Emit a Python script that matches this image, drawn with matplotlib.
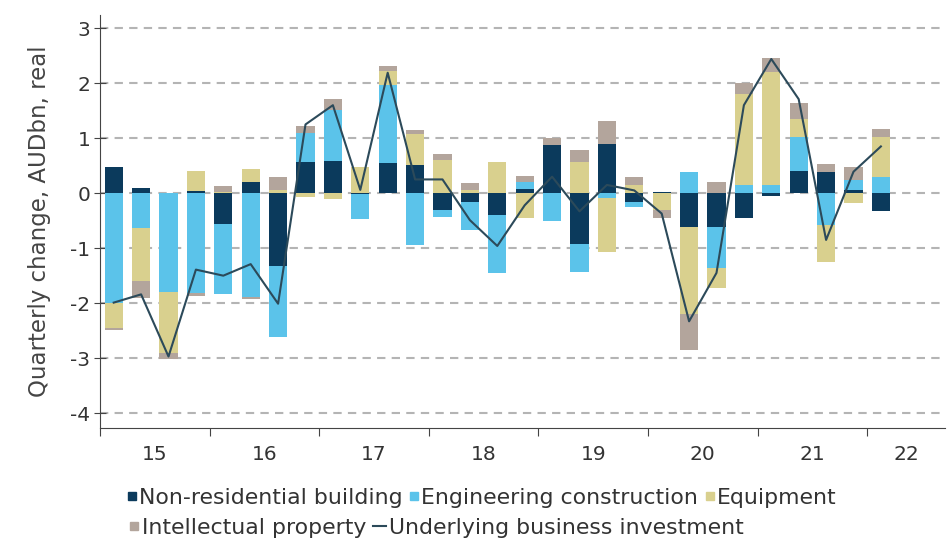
import numpy as np
import matplotlib
matplotlib.use("Agg")
import matplotlib.pyplot as plt
from matplotlib.lines import Line2D

plt.rcParams["axes.unicode_minus"] = False

# quarterly contributions, 2015 Q1 .. 2022 Q1
non_res = [0.47, 0.10, 0.01, 0.04, -0.56, 0.21, -1.33, 0.56, 0.58, -0.02,
           0.55, 0.51, -0.30, -0.16, -0.40, 0.07, 0.87, -0.92, 0.90, -0.16,
           0.03, -0.62, -0.62, -0.45, -0.06, 0.41, 0.39, 0.06, -0.32]
engineering = [-2.00, -0.64, -1.79, -1.82, -1.27, -1.88, -1.28, 0.54, 0.94, -0.45,
               1.42, -0.95, -0.14, -0.51, -1.05, 0.13, -0.50, -0.52, -0.08, -0.09,
               0.00, 0.39, -0.74, 0.15, 0.15, 0.62, -0.58, 0.18, 0.29]
equipment = [-0.45, -0.96, -1.12, 0.36, 0.03, 0.23, 0.06, -0.07, -0.10, 0.48,
             0.26, 0.57, 0.61, 0.05, 0.57, -0.46, 0.00, 0.57, -0.99, 0.15,
             -0.30, -1.58, -0.37, 1.65, 2.06, 0.32, -0.68, -0.17, 0.73]
intellectual = [-0.03, -0.30, -0.11, -0.05, 0.10, -0.05, 0.23, 0.12, 0.19, 0.00,
                0.09, 0.07, 0.11, 0.14, 0.00, 0.11, 0.13, 0.21, 0.41, 0.15,
                -0.16, -0.66, 0.21, 0.21, 0.24, 0.29, 0.14, 0.23, 0.14]
underlying = [-1.99, -1.84, -2.97, -1.39, -1.50, -1.29, -2.01, 1.25, 1.60, 0.06,
              2.19, 0.25, 0.25, -0.49, -0.96, -0.22, 0.30, -0.33, 0.15, 0.05,
              -0.37, -2.33, -1.45, 1.60, 2.44, 1.71, -0.85, 0.39, 0.85]
years = ["15", "16", "17", "18", "19", "20", "21", "22"]

series = [
    ("Non-residential building", non_res, "#0b3a5c"),
    ("Engineering construction", engineering, "#5bc3ea"),
    ("Equipment", equipment, "#d9d08e"),
    ("Intellectual property", intellectual, "#b3a59c"),
]

fig = plt.figure(figsize=(9.47, 5.43), dpi=100)
ax = fig.add_axes([100/947, 115/543, 845/947, 413/543])

x = np.arange(len(underlying))
pos = np.zeros(len(x))
neg = np.zeros(len(x))
for name, vals, col in series:
    v = np.array(vals)
    bottom = np.where(v >= 0, pos, neg)
    ax.bar(x, v, bottom=bottom, width=0.66, color=col, zorder=2)
    pos = pos + np.where(v >= 0, v, 0)
    neg = neg + np.where(v < 0, v, 0)

ax.plot(x, underlying, color="#2c4a5a", lw=1.5, zorder=3)

ax.set_xlim(-0.5, 30.34)
ax.set_ylim(-4.27, 3.24)
ax.set_yticks(range(-4, 4))
ax.yaxis.grid(True, color="#b4b4b4", lw=1.5, linestyle=(0, (4, 3)), zorder=0)
ax.set_axisbelow(True)

# year boundaries as ticks, labels centred in each year
ax.set_xticks(np.arange(-0.5, 28, 4))
ax.set_xticklabels([])
centers = [1.5 + 4*i for i in range(7)] + [(27.5 + 30.34) / 2]
ax.set_xticks(centers, minor=True)
ax.set_xticklabels(years, minor=True)
ax.tick_params(axis="x", which="minor", length=0, pad=12, labelsize=14.5, colors="#333333")
ax.tick_params(axis="x", which="major", length=6, direction="out", color="#444444")
ax.tick_params(axis="y", length=8, direction="inout", labelsize=14.5, color="#444444",
               labelcolor="#333333", pad=3)

for s in ["top", "right"]:
    ax.spines[s].set_visible(False)
ax.spines["left"].set_color("#444444")
ax.spines["bottom"].set_color("#444444")

ax.set_ylabel("Quarterly change, AUDbn, real", fontsize=16.5, color="#444444", labelpad=14)

row1 = [Line2D([], [], marker="s", ls="none", ms=6, color=c, label=n) for n, _, c in series[:3]]
row2 = [Line2D([], [], marker="s", ls="none", ms=6, color=series[3][2], label=series[3][0]),
        Line2D([], [], color="#2c4a5a", lw=1.5, label="Underlying business investment")]
kw = dict(loc="upper left", frameon=False, fontsize=15.8, borderpad=0, borderaxespad=0,
          handletextpad=0.1, columnspacing=0.3, labelcolor="#333333")
fig.legend(handles=row1, ncol=3, bbox_to_anchor=(127/947, 1 - 488/543), handlelength=0.45, **kw)
fig.legend(handles=row2, ncol=2, bbox_to_anchor=(127/947, 1 - 518/543), handlelength=0.6, **kw)

fig.savefig("out.png", dpi=100)
